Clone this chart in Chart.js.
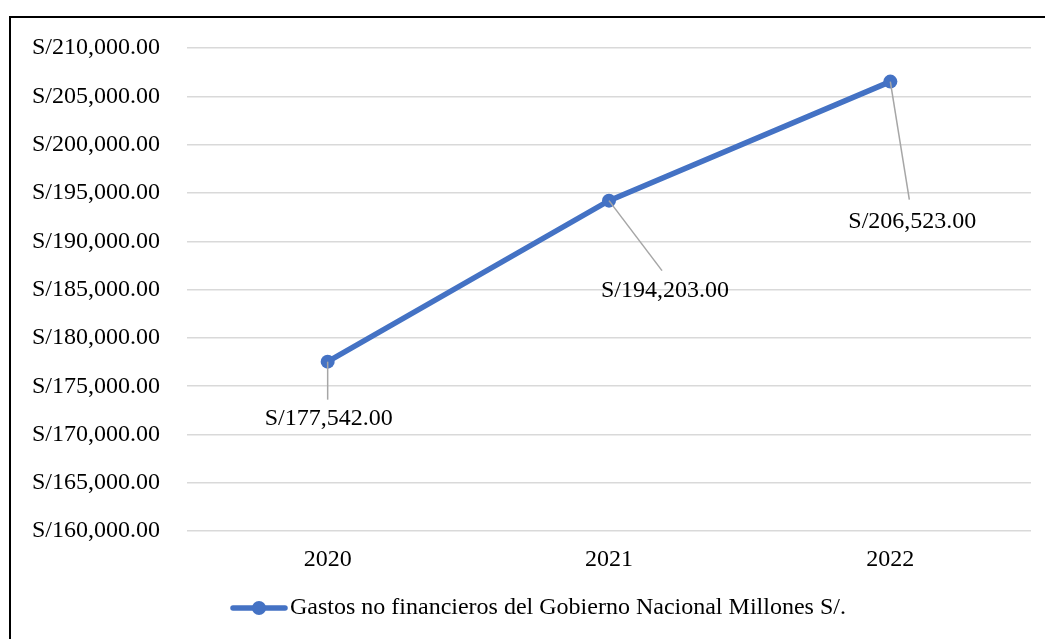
<!DOCTYPE html>
<html>
<head>
<meta charset="utf-8">
<script src="https://cdn.jsdelivr.net/npm/chart.js@4/dist/chart.umd.min.js"></script>
<style>
  html, body { margin: 0; padding: 0; background: #fff; overflow: hidden; }
  #frame { position: absolute; left: 9px; top: 16px; width: 1100px; height: 700px; border: 2px solid #000; }
  #wrap { position: absolute; left: 0; top: 0; width: 1045px; height: 639px; }
</style>
</head>
<body>
<div id="frame"></div>
<div id="wrap"><canvas id="chart" width="1045" height="639"></canvas></div>
<script>
// data
const years = ['2020', '2021', '2022'];
const gastos = [177542, 194203, 206523];
const seriesName = 'Gastos no financieros del Gobierno Nacional Millones S/.';

const blue = '#4472C4';
const serif = '"Liberation Serif", "Times New Roman", serif';
const fontSize = 24;

function soles(v) {
  return 'S/' + v.toLocaleString('en-US', { minimumFractionDigits: 2, maximumFractionDigits: 2 });
}

// label placement for each point: label centre and end of leader line, relative to the point
const labelOffsets = [
  { lx: 1, ly: 57, ex: 0, ey: 38 },
  { lx: 56, ly: 90, ex: 53, ey: 70 },
  { lx: 22, ly: 140, ex: 19, ey: 118 }
];

const calloutPlugin = {
  id: 'callouts',
  afterDatasetsDraw(chart) {
    const ctx = chart.ctx;
    const meta = chart.getDatasetMeta(0);
    ctx.save();
    meta.data.forEach(function (pt, i) {
      const o = labelOffsets[i];
      ctx.strokeStyle = '#a6a6a6';
      ctx.lineWidth = 1.5;
      ctx.beginPath();
      ctx.moveTo(pt.x, pt.y);
      ctx.lineTo(pt.x + o.ex, pt.y + o.ey);
      ctx.stroke();
      ctx.fillStyle = '#000';
      ctx.font = fontSize + 'px ' + serif;
      ctx.textAlign = 'center';
      ctx.textBaseline = 'middle';
      ctx.fillText(soles(gastos[i]), pt.x + o.lx, pt.y + o.ly);
    });
    ctx.restore();
  }
};

// legend drawn by hand so the sample shows line + marker
const legendPlugin = {
  id: 'lineLegend',
  afterDraw(chart) {
    const ctx = chart.ctx;
    const y = 608;
    ctx.save();
    ctx.strokeStyle = blue;
    ctx.lineWidth = 5.5;
    ctx.lineCap = 'round';
    ctx.beginPath();
    ctx.moveTo(233, y);
    ctx.lineTo(285, y);
    ctx.stroke();
    ctx.fillStyle = blue;
    ctx.beginPath();
    ctx.arc(259, y, 7, 0, Math.PI * 2);
    ctx.fill();
    ctx.fillStyle = '#000';
    ctx.font = fontSize + 'px ' + serif;
    ctx.textAlign = 'left';
    ctx.textBaseline = 'middle';
    ctx.fillText(seriesName, 290, y);
    ctx.restore();
  }
};

new Chart(document.getElementById('chart'), {
  type: 'line',
  data: {
    labels: years,
    datasets: [{
      label: seriesName,
      data: gastos,
      borderColor: blue,
      backgroundColor: blue,
      borderWidth: 5.5,
      pointRadius: 7,
      pointHoverRadius: 7,
      pointBackgroundColor: blue,
      pointBorderWidth: 0,
      tension: 0
    }]
  },
  options: {
    responsive: false,
    animation: false,
    layout: { padding: { left: 0, right: 14, top: 48, bottom: 51 } },
    plugins: {
      legend: { display: false },
      tooltip: { enabled: false }
    },
    scales: {
      x: {
        offset: true,
        grid: { display: false, drawTicks: false },
        border: { display: false },
        ticks: { color: '#000', font: { family: serif, size: fontSize }, padding: 14 }
      },
      y: {
        min: 160000,
        max: 210000,
        afterFit(scale) { scale.width = 187; },
        grid: { color: '#d9d9d9', lineWidth: 1.5, drawTicks: false },
        border: { display: false },
        ticks: {
          stepSize: 5000,
          color: '#000',
          font: { family: serif, size: fontSize },
          padding: 27,
          callback: function (v) { return soles(v); }
        }
      }
    }
  },
  plugins: [calloutPlugin, legendPlugin]
});
</script>
</body>
</html>
